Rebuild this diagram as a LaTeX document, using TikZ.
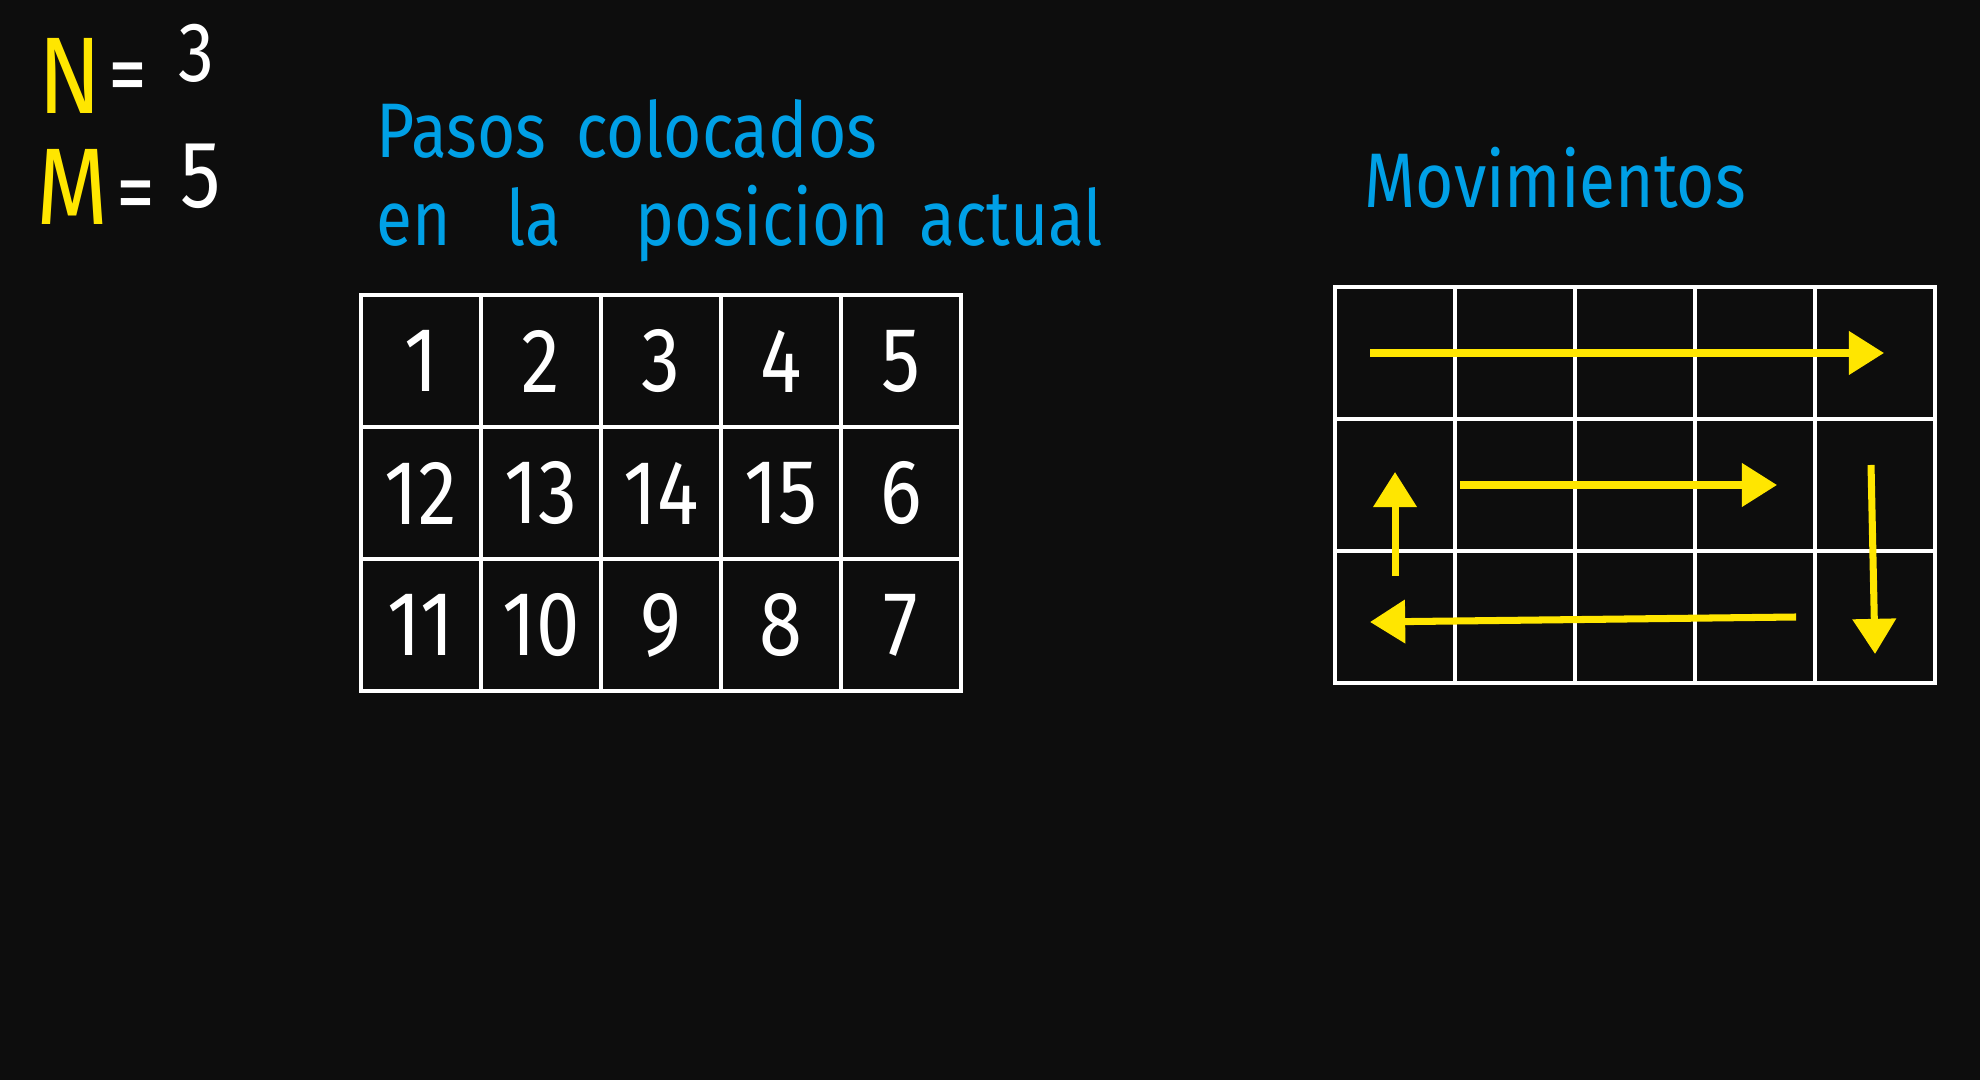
\documentclass[tikz,border=0pt]{standalone}
\usepackage{fontspec}
\setmainfont[FakeStretch=0.85]{Fira Sans}
\usepackage{xcolor}
\usepackage{tikz}
\usetikzlibrary{positioning}
\usetikzlibrary{arrows.meta}
\definecolor{pizarra}{HTML}{0D0D0D}
\definecolor{tiza}{HTML}{00A0E6}
\definecolor{amarillo}{HTML}{FFE600}
\tikzset{
    mynode/.style = {rectangle, draw=white, line width=1pt, text=white, align=center, minimum width=1.2cm, minimum height=1.32cm, inner sep=0pt, outer sep=0pt, font=\fontsize{26}{30}\selectfont},
    titulo/.style = {text=tiza, anchor=base west, inner sep=0pt, font=\fontsize{22}{26}\selectfont},
    dato/.style = {anchor=base west, inner sep=0pt, font=\fontsize{31}{35}\selectfont},
}
\begin{document}
\begin{tikzpicture}[
	x=0.01cm,
	y=-0.01cm
]
\tikzset{
    mynodev/.style = {mynode, minimum height=1.317cm},
    edgey/.style = {-{Triangle[length=10pt,width=12pt]}, line width=2pt, amarillo}
}
\fill[pizarra] (0,0) rectangle (1980,1080);
% N y M
\node[dato, text=amarillo] at (38,114) (n) {N};
\node[dato, text=white, font=\fontsize{26}{30}\selectfont] at (108,106) (neq) {=};
\node[dato, text=white, font=\fontsize{24}{28}\selectfont] at (178,82) (nval) {3};
\node[dato, text=amarillo] at (36,225) (m) {M};
\node[dato, text=white, font=\fontsize{26}{30}\selectfont] at (116,224) (meq) {=};
\node[dato, text=white, font=\fontsize{27}{30}\selectfont] at (180,208) (mval) {5};
% titulos
\node[titulo] at (376,158) (t1) {Pasos\hspace{0.3cm}colocados};
\node[titulo] at (376,246) (t2) {en\hspace{0.55cm}la\hspace{0.75cm}posicion\hspace{0.3cm}actual};
\node[titulo] at (1364,208) (t3) {Movimientos};
%
\node[mynode] at (421,361) (c11) {1};
\node[mynode] at (541,361) (c12) {2};
\node[mynode] at (661,361) (c13) {3};
\node[mynode] at (781,361) (c14) {4};
\node[mynode] at (901,361) (c15) {5};
%
\node[mynode] at (421,493) (c21) {12};
\node[mynode] at (541,493) (c22) {13};
\node[mynode] at (661,493) (c23) {14};
\node[mynode] at (781,493) (c24) {15};
\node[mynode] at (901,493) (c25) {6};
%
\node[mynode] at (421,625) (c31) {11};
\node[mynode] at (541,625) (c32) {10};
\node[mynode] at (661,625) (c33) {9};
\node[mynode] at (781,625) (c34) {8};
\node[mynode] at (901,625) (c35) {7};
%
\node[mynodev] at (1395,353) (m11) {};
\node[mynodev] at (1515,353) (m12) {};
\node[mynodev] at (1635,353) (m13) {};
\node[mynodev] at (1755,353) (m14) {};
\node[mynodev] at (1875,353) (m15) {};
%
\node[mynodev] at (1395,485) (m21) {};
\node[mynodev] at (1515,485) (m22) {};
\node[mynodev] at (1635,485) (m23) {};
\node[mynodev] at (1755,485) (m24) {};
\node[mynodev] at (1875,485) (m25) {};
%
\node[mynodev] at (1395,617) (m31) {};
\node[mynodev] at (1515,617) (m32) {};
\node[mynodev] at (1635,617) (m33) {};
\node[mynodev] at (1755,617) (m34) {};
\node[mynodev] at (1875,617) (m35) {};
%
\draw[edgey] ([xshift=-0.25cm]m11.center) -- ([xshift=0.09cm]m15.center);
\draw[edgey] ([xshift=-0.04cm,yshift=0.2cm]m25.center) -- ([yshift=-0.37cm]m35.center);
\draw[edgey] ([xshift=0.41cm]m34.center) -- ([xshift=-0.25cm,yshift=-0.05cm]m31.center);
\draw[edgey] ([yshift=0.41cm]m31.center) -- ([yshift=0.13cm]m21.center);
\draw[edgey] ([xshift=0.05cm]m22.west) -- ([xshift=0.22cm]m24.center);
\end{tikzpicture}
\end{document}
